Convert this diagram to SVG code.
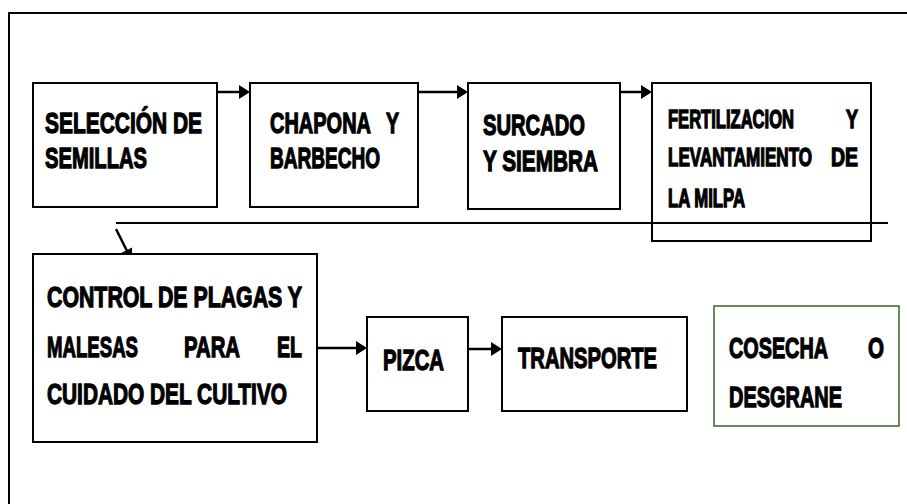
<svg xmlns="http://www.w3.org/2000/svg" width="907" height="504" viewBox="0 0 907 504">
<style>
.box{fill:#fff;stroke:#000;stroke-width:2}
.g{fill:#fff;stroke:#38622a;stroke-width:1.5}
.t{font-family:"Liberation Sans Narrow","Liberation Sans",Arial,sans-serif;font-weight:bold;font-size:21px;fill:#000;stroke:#000;stroke-width:0.9}
.s{font-size:17px}
.c{stroke:#000;stroke-width:2.5;fill:none}
.l{stroke:#000;stroke-width:2;fill:none}
.h{fill:#000;stroke:none}
</style>
<rect width="907" height="504" fill="#fff"/>
<path class="l" d="M9,504 V13 H907"/>
<g id="connectors">
<line class="c" x1="217" y1="92" x2="240" y2="92"/>
<polygon class="h" points="239,85 250,92 239,99"/>
<line class="c" x1="418" y1="92" x2="458" y2="92"/>
<polygon class="h" points="457,85 468,92 457,99"/>
<line class="c" x1="620" y1="92" x2="642" y2="92"/>
<polygon class="h" points="641,85 652,92 641,99"/>
<line class="l" x1="116" y1="223" x2="888" y2="223"/>
<line class="c" x1="116" y1="229" x2="127" y2="251"/>
<polygon class="h" points="121.2,253 132,261 132,247.6"/>
<line class="c" x1="317" y1="348" x2="357" y2="348"/>
<polygon class="h" points="356,341 367,348 356,355"/>
<line class="c" x1="468" y1="349" x2="492" y2="349"/>
<polygon class="h" points="491,342 502,349 491,356"/>
</g>
<g id="n1">
<rect class="box" x="33" y="83" width="184" height="124"/>
<text class="t" transform="translate(45,133) scale(1,1.4)" textLength="157" lengthAdjust="spacingAndGlyphs">SELECCIÓN DE</text>
<text class="t" transform="translate(45,168) scale(1,1.4)" textLength="102" lengthAdjust="spacingAndGlyphs">SEMILLAS</text>
</g>
<g id="n2">
<rect class="box" x="250" y="83" width="168" height="124"/>
<text class="t" transform="translate(270,133) scale(1,1.4)" textLength="101" lengthAdjust="spacingAndGlyphs">CHAPONA</text>
<text class="t" transform="translate(386,133) scale(1,1.4)" textLength="13" lengthAdjust="spacingAndGlyphs">Y</text>
<text class="t" transform="translate(270,168) scale(1,1.4)" textLength="110" lengthAdjust="spacingAndGlyphs">BARBECHO</text>
</g>
<g id="n3">
<rect class="box" x="468" y="83" width="152" height="126"/>
<text class="t" transform="translate(483,135) scale(1,1.4)" textLength="102" lengthAdjust="spacingAndGlyphs">SURCADO</text>
<text class="t" transform="translate(483,171) scale(1,1.4)" textLength="115" lengthAdjust="spacingAndGlyphs">Y SIEMBRA</text>
</g>
<g id="n4">
<rect class="box" x="652" y="83" width="219" height="158" style="fill:none"/>
<text class="t s" transform="translate(668,128) scale(1,1.55)" textLength="126" lengthAdjust="spacingAndGlyphs">FERTILIZACION</text>
<text class="t s" transform="translate(846,128) scale(1,1.55)" textLength="12" lengthAdjust="spacingAndGlyphs">Y</text>
<text class="t s" transform="translate(668,166) scale(1,1.55)" textLength="144" lengthAdjust="spacingAndGlyphs">LEVANTAMIENTO</text>
<text class="t s" transform="translate(831,166) scale(1,1.55)" textLength="27" lengthAdjust="spacingAndGlyphs">DE</text>
<text class="t s" transform="translate(668,207) scale(1,1.55)" textLength="77" lengthAdjust="spacingAndGlyphs">LA MILPA</text>
</g>
<g id="n5">
<rect class="box" x="33" y="254" width="284" height="188"/>
<text class="t" transform="translate(47,307) scale(1,1.4)" textLength="255" lengthAdjust="spacingAndGlyphs">CONTROL DE PLAGAS Y</text>
<text class="t" transform="translate(47,357) scale(1,1.4)" textLength="91" lengthAdjust="spacingAndGlyphs">MALESAS</text>
<text class="t" transform="translate(184,357) scale(1,1.4)" textLength="56" lengthAdjust="spacingAndGlyphs">PARA</text>
<text class="t" transform="translate(277,357) scale(1,1.4)" textLength="25" lengthAdjust="spacingAndGlyphs">EL</text>
<text class="t" transform="translate(47,404) scale(1,1.4)" textLength="240" lengthAdjust="spacingAndGlyphs">CUIDADO DEL CULTIVO</text>
</g>
<g id="n6">
<rect class="box" x="367" y="317" width="101" height="94"/>
<text class="t" transform="translate(383,370) scale(1,1.4)" textLength="61" lengthAdjust="spacingAndGlyphs">PIZCA</text>
</g>
<g id="n7">
<rect class="box" x="502" y="317" width="185" height="94"/>
<text class="t" transform="translate(518,368) scale(1,1.4)" textLength="139" lengthAdjust="spacingAndGlyphs">TRANSPORTE</text>
</g>
<g id="n8">
<rect class="g" x="714" y="306" width="185" height="120"/>
<text class="t" transform="translate(729,358) scale(1,1.4)" textLength="99" lengthAdjust="spacingAndGlyphs">COSECHA</text>
<text class="t" transform="translate(868,358) scale(1,1.4)" textLength="16" lengthAdjust="spacingAndGlyphs">O</text>
<text class="t" transform="translate(729,407) scale(1,1.4)" textLength="113" lengthAdjust="spacingAndGlyphs">DESGRANE</text>
</g>
</svg>
